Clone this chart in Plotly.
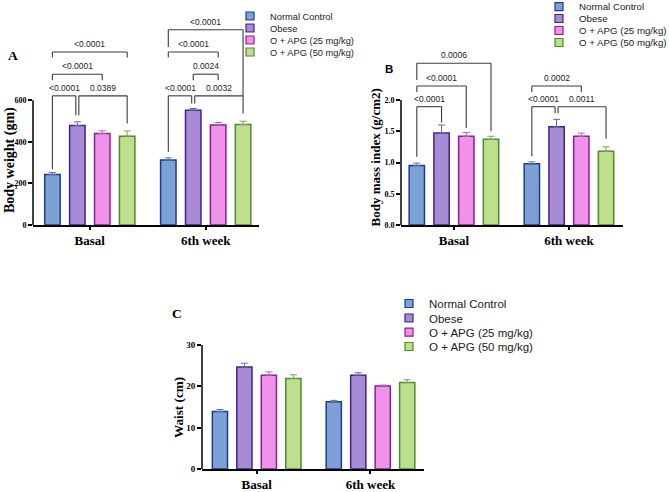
import plotly.graph_objects as go

# ---------------- data ----------------
groups = ["Basal", "6th week"]
series = ["Normal Control", "Obese", "O + APG (25 mg/kg)", "O + APG (50 mg/kg)"]

# Panel A: body weight (gm); values per series: [Basal, 6th week]
bw_nc = [243, 312]
bw_ob = [478, 552]
bw_a25 = [440, 481]
bw_a50 = [427, 483]
bw_err_nc = [9, 11]
bw_err_ob = [18, 8]
bw_err_a25 = [13, 12]
bw_err_a50 = [25, 16]

# Panel B: body mass index (g/cm2)
bmi_nc = [0.95, 0.98]
bmi_ob = [1.47, 1.57]
bmi_a25 = [1.42, 1.42]
bmi_a50 = [1.37, 1.18]
bmi_err_nc = [0.04, 0.03]
bmi_err_ob = [0.13, 0.12]
bmi_err_a25 = [0.06, 0.05]
bmi_err_a50 = [0.05, 0.07]

# Panel C: waist (cm)
waist_nc = [13.9, 16.3]
waist_ob = [24.7, 22.7]
waist_a25 = [22.7, 20.1]
waist_a50 = [21.9, 20.9]
waist_err_nc = [0.5, 0.3]
waist_err_ob = [0.9, 0.6]
waist_err_a25 = [0.8, 0.2]
waist_err_a50 = [0.9, 0.7]

# comparisons: (group index, series i, series j, p label)
bw_comparisons = [
    (0, 0, 1, "<0.0001"), (0, 1, 3, "0.0389"), (0, 0, 2, "<0.0001"), (0, 0, 3, "<0.0001"),
    (1, 0, 1, "<0.0001"), (1, 1, 3, "0.0032"), (1, 1, 2, "0.0024"), (1, 0, 2, "<0.0001"),
    (1, 0, 3, "<0.0001"),
]
bmi_comparisons = [
    (0, 0, 1, "<0.0001"), (0, 0, 2, "<0.0001"), (0, 0, 3, "0.0006"),
    (1, 0, 1, "<0.0001"), (1, 1, 3, "0.0011"), (1, 0, 2, "0.0002"),
]

# ---------------- style ----------------
W, H = 669, 492
SERIF = "Liberation Serif, Times New Roman, serif"
SANS = "Liberation Sans, Arial, sans-serif"
fills = ["#7BA1D7", "#A78CD5", "#EE92EA", "#BEDF8B"]
edges = ["#1F3C8C", "#43228F", "#8E1F88", "#4E8B2B"]
errcols = ["#5E72A6", "#7560A8", "#AA6AAC", "#7E9E5E"]
BARGAP = 0.14
BARGROUPGAP = 0.38
SLOT = (1 - BARGAP) / 4
NUDGE = 0.013

# bracket geometry (data units): level, left leg end, right leg end
bw_brackets = [(621, 268, 528), (621, 528, 488), (725, 696, 696), (832, 805, 805),
               (621, 352, 584), (621, 584, 536), (725, 696, 696), (832, 805, 805),
               (939, 856, 621)]
bmi_brackets = [(1.893, 1.09, 1.637), (2.224, 2.13, 1.55), (2.587, 2.32, 1.50),
                (1.893, 1.10, 1.787), (1.893, 1.787, 1.38), (2.224, 2.13, 2.13)]


def px_x(p):
    return p / W


def px_y(p):
    return 1 - p / H


panels = [
    dict(x="x", y="y", xa="xaxis", ya="yaxis",
         vals=[bw_nc, bw_ob, bw_a25, bw_a50],
         errs=[bw_err_nc, bw_err_ob, bw_err_a25, bw_err_a50],
         xdom=(33, 259), ydom=(17, 225), xrange=[-0.49, 1.46], yrange=[0, 1000],
         ytickvals=[0, 200, 400, 600], ytickfmt=None, ytick_size=8, axis_top=600,
         comps=bw_comparisons, brackets=bw_brackets,
         legend_sym_x=250, legend_rows=[16, 28, 40, 52], legend_font=9.3),
    dict(x="x2", y="y2", xa="xaxis2", ya="yaxis2",
         vals=[bmi_nc, bmi_ob, bmi_a25, bmi_a50],
         errs=[bmi_err_nc, bmi_err_ob, bmi_err_a25, bmi_err_a50],
         xdom=(401, 623), ydom=(47, 225), xrange=[-0.46, 1.47], yrange=[0, 2.848],
         ytickvals=[0, 0.5, 1.0, 1.5, 2.0], ytickfmt=".1f", ytick_size=8, axis_top=2.0,
         comps=bmi_comparisons, brackets=bmi_brackets,
         legend_sym_x=559, legend_rows=[6.7, 18.5, 30.5, 42.5], legend_font=9.7),
    dict(x="x3", y="y3", xa="xaxis3", ya="yaxis3",
         vals=[waist_nc, waist_ob, waist_a25, waist_a50],
         errs=[waist_err_nc, waist_err_ob, waist_err_a25, waist_err_a50],
         xdom=(202, 424), ydom=(345, 469), xrange=[-0.48, 1.47], yrange=[0, 30],
         ytickvals=[0, 10, 20, 30], ytickfmt=None, ytick_size=9, axis_top=30,
         comps=[], brackets=[],
         legend_sym_x=409, legend_rows=[303.5, 318, 332.2, 346.5], legend_font=11.5),
]

fig = go.Figure()
shapes = []
annotations = []
legend_count = 0

for p in panels:
    for k, name in enumerate(series):
        fig.add_trace(go.Bar(
            x=groups, y=p["vals"][k], name=name, showlegend=False,
            xaxis=p["x"], yaxis=p["y"],
            marker=dict(color=fills[k], line=dict(color=edges[k], width=1.5)),
            error_y=dict(type="data", symmetric=False, array=p["errs"][k],
                         arrayminus=[0] * len(groups), color=errcols[k],
                         thickness=1, width=3.5),
        ))
        legend_count += 1
        lid = "legend" if legend_count == 1 else f"legend{legend_count}"
        fig.add_trace(go.Scatter(
            x=[None], y=[None], mode="markers", name=name, legend=lid,
            xaxis=p["x"], yaxis=p["y"], hoverinfo="skip",
            marker=dict(symbol="square", size=8, color=fills[k],
                        line=dict(color=edges[k], width=1.2)),
        ))
        fig.update_layout(**{lid: dict(
            x=px_x(p["legend_sym_x"] - 20), y=px_y(p["legend_rows"][k]),
            xanchor="left", yanchor="middle", bgcolor="rgba(0,0,0,0)",
            borderwidth=0, font=dict(family=SANS, size=p["legend_font"], color="#1a1a1a"),
        )})

    fig.update_layout(**{
        p["xa"]: dict(domain=[px_x(p["xdom"][0]), px_x(p["xdom"][1])], anchor=p["y"],
                      type="category", range=p["xrange"], showline=True, linecolor="black",
                      linewidth=1.5, ticks="outside", ticklen=3, tickwidth=1.5, tickcolor="black",
                      showgrid=False, zeroline=False,
                      tickfont=dict(family=SERIF, size=13, color="black", weight="bold")),
        p["ya"]: dict(domain=[px_y(p["ydom"][1]), px_y(p["ydom"][0])], anchor=p["x"],
                      range=p["yrange"], tickvals=p["ytickvals"], tickformat=p["ytickfmt"],
                      showline=False, ticks="outside", ticklen=4, tickwidth=1.5,
                      tickcolor="black", showgrid=False, zeroline=False,
                      tickfont=dict(family=SERIF, size=p["ytick_size"], color="black",
                                    weight="bold")),
    })
    # y axis line only up to the top tick
    shapes.append(dict(type="line", xref=f"{p['x']} domain", yref=p["y"], x0=0, x1=0,
                       y0=0, y1=p["axis_top"], line=dict(color="black", width=1.5)))

    # significance brackets
    ends = []
    for (g, i, j, lab), (lvl, lb, rb) in zip(p["comps"], p["brackets"]):
        ends.append([g + (i - 1.5) * SLOT, g + (j - 1.5) * SLOT, g, i, j, lvl])
    for a in ends:
        for b in ends:
            if a is not b and a[2] == b[2] and a[5] == b[5] and a[4] == b[3]:
                a[1] -= NUDGE
                b[0] += NUDGE
    for (g, i, j, lab), (lvl, lb, rb), e in zip(p["comps"], p["brackets"], ends):
        x0, x1 = e[0], e[1]
        ln = dict(color="#3c3c3c", width=1.1)
        shapes.append(dict(type="line", xref=p["x"], yref=p["y"], x0=x0, x1=x0, y0=lb, y1=lvl, line=ln))
        shapes.append(dict(type="line", xref=p["x"], yref=p["y"], x0=x0, x1=x1, y0=lvl, y1=lvl, line=ln))
        shapes.append(dict(type="line", xref=p["x"], yref=p["y"], x0=x1, x1=x1, y0=lvl, y1=rb, line=ln))
        annotations.append(dict(xref=p["x"], yref=p["y"], x=(x0 + x1) / 2, y=lvl, text=lab,
                                showarrow=False, yanchor="bottom", xanchor="center", yshift=1,
                                font=dict(family=SANS, size=8.5, color="#222222")))

# axis titles and panel letters
titles = [("Body weight (gm)", 10, 160, 14), ("Body mass index (g/cm2)", 374.5, 158, 13),
          ("Waist (cm)", 178, 408, 13.2)]
for txt, x, y, s in titles:
    annotations.append(dict(xref="paper", yref="paper", x=px_x(x), y=px_y(y), text=txt,
                            textangle=-90, showarrow=False, xanchor="center", yanchor="middle",
                            font=dict(family=SERIF, size=s, color="black", weight="bold")))
letters = [("A", 13, 55, SERIF, 13.5), ("B", 388.5, 69, SANS, 11.5), ("C", 177, 313.5, SERIF, 13.5)]
for txt, x, y, fam, s in letters:
    annotations.append(dict(xref="paper", yref="paper", x=px_x(x), y=px_y(y), text=txt,
                            showarrow=False, xanchor="center", yanchor="middle",
                            font=dict(family=fam, size=s, color="black", weight="bold")))

fig.update_layout(
    width=W, height=H, margin=dict(l=0, r=0, t=0, b=0, autoexpand=False),
    paper_bgcolor="white", plot_bgcolor="white",
    barmode="group", bargap=BARGAP, bargroupgap=BARGROUPGAP,
    shapes=shapes, annotations=annotations,
)

fig.write_html("out.html")
